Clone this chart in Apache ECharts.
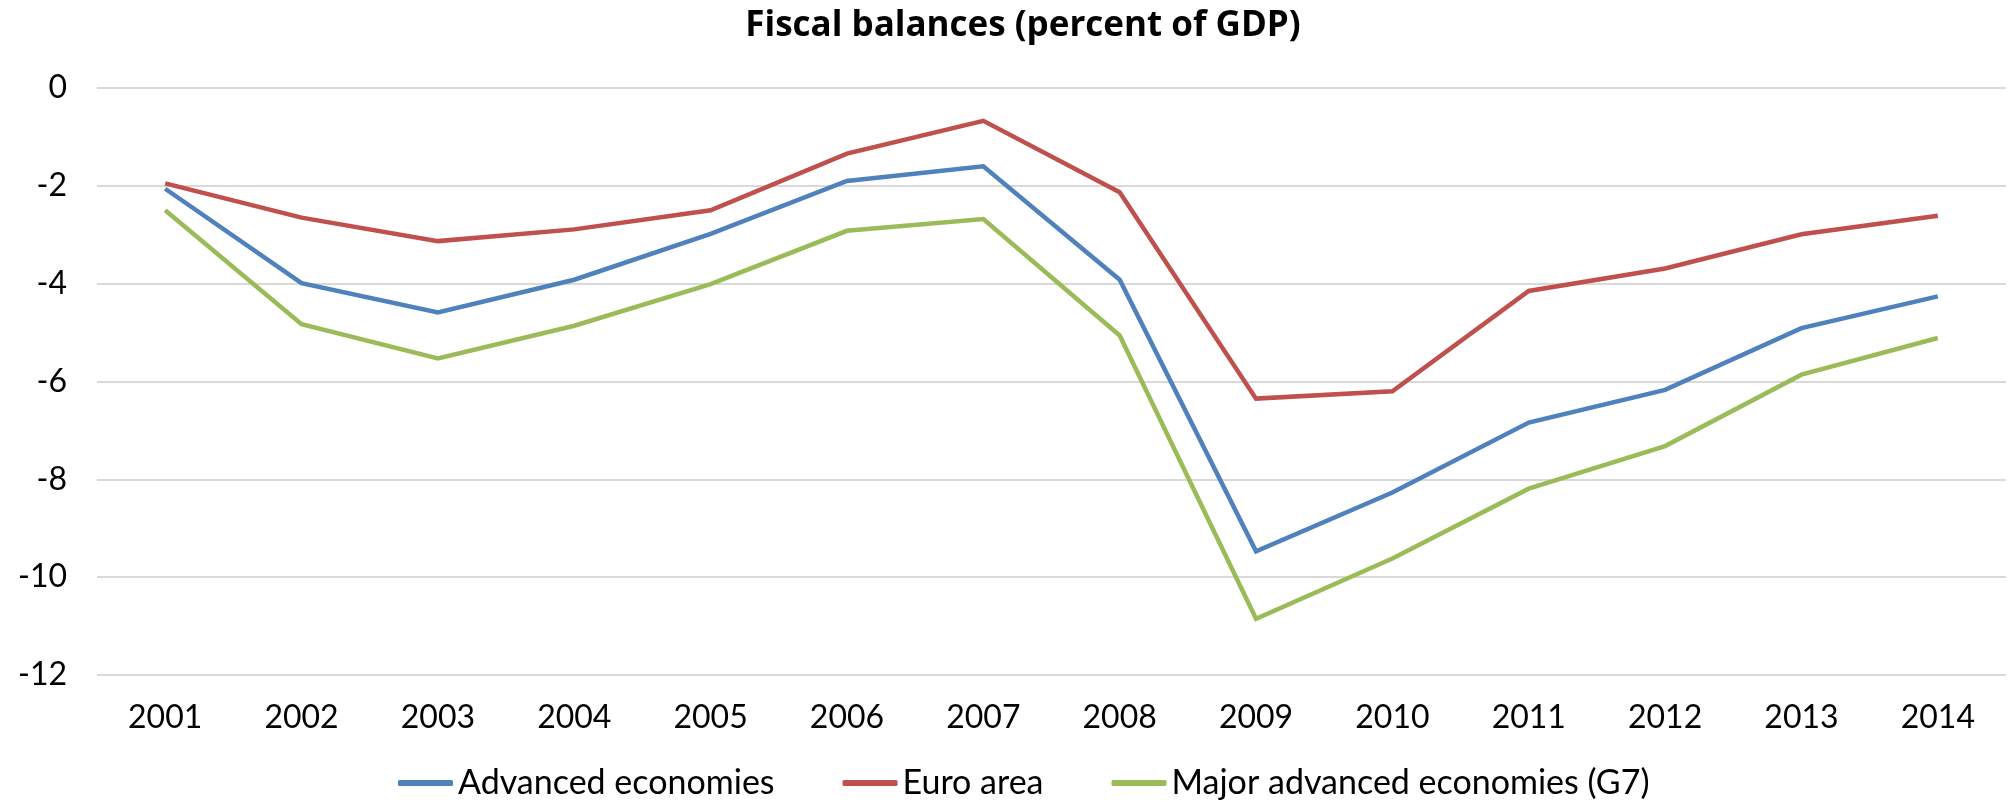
<!DOCTYPE html>
<html>
<head>
<meta charset="utf-8">
<script src="https://cdn.jsdelivr.net/npm/echarts@6/dist/echarts.min.js"></script>
<style>
  html, body { margin: 0; padding: 0; background: #fff; }
  #chart { width: 2008px; height: 801px; }
</style>
</head>
<body>
<div id="chart"></div>
<script>
// Fiscal balances by group, percent of GDP
const years = ['2001','2002','2003','2004','2005','2006','2007','2008','2009','2010','2011','2012','2013','2014'];
const advancedEconomies = [-2.06, -3.99, -4.59, -3.92, -2.98, -1.90, -1.60, -3.92, -9.47, -8.27, -6.84, -6.17, -4.91, -4.26];
const euroArea = [-1.95, -2.65, -3.13, -2.89, -2.50, -1.34, -0.67, -2.13, -6.35, -6.20, -4.15, -3.69, -2.99, -2.61];
const majorAdvancedG7 = [-2.50, -4.83, -5.53, -4.86, -4.01, -2.92, -2.68, -5.06, -10.85, -9.62, -8.19, -7.32, -5.86, -5.11];
const seriesNames = ['Advanced economies', 'Euro area', 'Major advanced economies (G7)'];

const FONT = 'Lato, "Open Sans", sans-serif';
const TITLE_FONT = '"Open Sans", Lato, sans-serif';
const chart = echarts.init(document.getElementById('chart'));

function lineSeries(name, data, color) {
  return {
    name: name,
    type: 'line',
    data: data,
    symbol: 'none',
    lineStyle: { color: color, width: 4.5, join: 'miter' },
    itemStyle: { color: color },
    animation: false
  };
}

chart.setOption({
  backgroundColor: '#ffffff',
  title: {
    text: 'Fiscal balances (percent of GDP)',
    left: 1018,
    textAlign: 'center',
    top: 4,
    textStyle: { fontFamily: TITLE_FONT, fontWeight: 'bold', fontSize: 35, color: '#000' }
  },
  legend: {
    top: 761,
    left: 393,
    itemWidth: 55,
    itemHeight: 6,
    itemGap: 68,
    icon: 'roundRect',
    data: seriesNames,
    textStyle: { fontFamily: FONT, fontSize: 34, color: '#000' }
  },
  grid: { left: 97, right: 2, top: 88, bottom: 126, containLabel: false },
  xAxis: {
    type: 'category',
    data: years,
    boundaryGap: true,
    axisLine: { show: false },
    axisTick: { show: false },
    axisLabel: { fontFamily: FONT, fontSize: 32, color: '#000', margin: 27 }
  },
  yAxis: {
    type: 'value',
    min: -12,
    max: 0,
    interval: 2,
    axisLine: { show: false },
    axisTick: { show: false },
    axisLabel: { fontFamily: FONT, fontSize: 32, color: '#000', margin: 30 },
    splitLine: { lineStyle: { color: '#d9d9d9', width: 2 } }
  },
  series: [
    lineSeries(seriesNames[0], advancedEconomies, '#4f81bd'),
    lineSeries(seriesNames[1], euroArea, '#c0504d'),
    lineSeries(seriesNames[2], majorAdvancedG7, '#9bbb59')
  ]
});
</script>
</body>
</html>
